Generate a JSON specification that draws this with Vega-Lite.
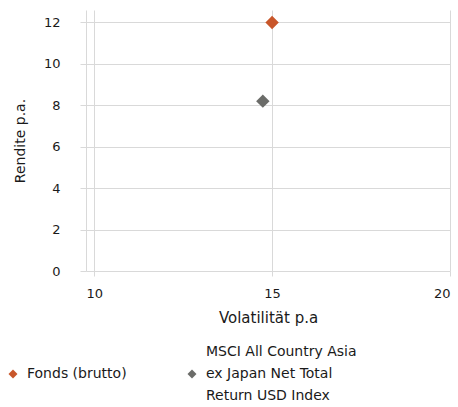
{
  "$schema": "https://vega.github.io/schema/vega-lite/v6.json",
  "autosize": {"type": "none"},
  "padding": {"left": 86, "top": 10, "right": 8, "bottom": 136},
  "width": 364,
  "height": 261,
  "background": "white",
  "config": {
    "font": "DejaVu Sans",
    "view": {"stroke": null},
    "style": {"guide-label": {"lineHeight": 22}},
    "axis": {
      "labelFont": "DejaVu Sans",
      "titleFont": "DejaVu Sans",
      "labelFontSize": 13,
      "titleFontSize": 13,
      "titleFontWeight": "normal",
      "labelColor": "#1a1a1a",
      "titleColor": "#1a1a1a",
      "gridColor": "#d9d9d9",
      "domainColor": "#d9d9d9",
      "tickColor": "#d9d9d9"
    },
    "legend": {"labelFont": "DejaVu Sans", "labelFontSize": 14, "labelColor": "#1a1a1a"}
  },
  "data": {
    "values": [
      {"series": "Fonds (brutto)", "vol": 15.0, "ret": 12.0},
      {"series": "MSCI All Country Asia ex Japan Net Total Return USD Index", "vol": 14.74, "ret": 8.2}
    ]
  },
  "mark": {"type": "point", "shape": "diamond", "filled": true, "size": 180, "opacity": 1},
  "encoding": {
    "x": {
      "field": "vol", "type": "quantitative",
      "scale": {"domain": [9.77, 20], "nice": false, "zero": false},
      "axis": {"values": [10, 15, 20], "title": "Volatilität p.a", "titleFontSize": 15, "tickSize": 5, "labelPadding": 11, "titlePadding": 10, "domain": false}
    },
    "y": {
      "field": "ret", "type": "quantitative",
      "scale": {"domain": [0, 12.6], "nice": false},
      "axis": {"values": [0, 2, 4, 6, 8, 10, 12], "title": "Rendite p.a.", "titleFontSize": 14, "tickSize": 6, "labelPadding": 20, "titlePadding": 16}
    },
    "color": {
      "field": "series", "type": "nominal",
      "scale": {"domain": ["Fonds (brutto)", "MSCI All Country Asia ex Japan Net Total Return USD Index"], "range": ["#c8562a", "#6b6c69"]},
      "legend": {
        "title": null,
        "orient": "none",
        "legendX": -80,
        "legendY": 335,
        "direction": "horizontal",
        "columns": 2,
        "symbolType": "M0,3.92L1,4.92L0,5.92L-1,4.92Z",
        "symbolSize": 80,
        "labelOffset": 7,
        "columnPadding": 58,
        "labelLimit": 300,
        "labelBaseline": "middle",
        "labelExpr": "datum.label == 'Fonds (brutto)' ? [' ', 'Fonds (brutto)', ' '] : ['MSCI All Country Asia', 'ex Japan Net Total', 'Return USD Index']"
      }
    }
  }
}
